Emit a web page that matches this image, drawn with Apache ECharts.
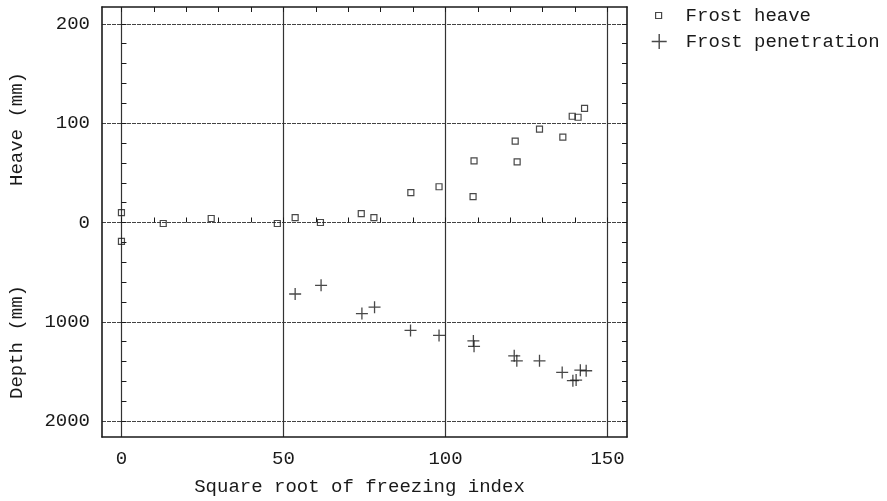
<!DOCTYPE html>
<html>
<head>
<meta charset="utf-8">
<script src="https://cdn.jsdelivr.net/npm/echarts@6/dist/echarts.min.js"></script>
<style>
  html, body { margin: 0; padding: 0; background: #fff; }
  #chart { width: 887px; height: 501px; }
</style>
</head>
<body>
<div id="chart"></div>
<script>
// Square root of freezing index for each heave reading, and the heave (mm)
const heaveX  = [0, 0, 12.9, 27.7, 48.1, 53.6, 61.4, 74.0, 77.9, 89.3, 98.0, 108.8, 108.5, 121.5, 122.1, 129.0, 136.2, 139.1, 140.9, 142.9];
const heaveMm = [10, -19, -1, 4, -1, 5, 0, 9, 5, 30, 36, 62, 26, 82, 61, 94, 86, 107, 106, 115];

// Square root of freezing index for each penetration reading, and the depth (mm)
const penX    = [53.6, 61.6, 74.2, 78.1, 89.2, 98.0, 108.6, 108.8, 121.2, 122.0, 129.0, 136.0, 139.3, 140.3, 141.6, 143.4];
const depthMm = [720, 633, 917, 853, 1087, 1137, 1193, 1247, 1343, 1393, 1393, 1510, 1593, 1587, 1487, 1493];

// Axis ticks
const xTicks      = [0, 50, 100, 150];
const xMinorTicks = [0, 10, 20, 30, 40, 50, 60, 70, 80, 90, 100, 110, 120, 130, 140, 150];
// The vertical axis is in heave units above zero; below zero one unit = 10 mm of depth
const yTicks      = [-200, -100, 0, 100, 200];
const yTickLabels = ['2000', '1000', '0', '100', '200'];
const yMinorTicks = [-200, -180, -160, -140, -120, -100, -80, -60, -40, -20, 0, 20, 40, 60, 80, 100, 120, 140, 160, 180, 200];
const DEPTH_PER_UNIT = 10;

const FONT = '"Liberation Mono", "DejaVu Sans Mono", monospace';
const INK = '#1a1a1a';
const X_MIN = -6, X_MAX = 156, Y_MIN = -216, Y_MAX = 217;

const CROSS = 'path://M0,6 L12,6 M6,0 L6,12';

const heaveData = heaveX.map((x, i) => [x, heaveMm[i]]);
const penData = penX.map((x, i) => [x, -depthMm[i] / DEPTH_PER_UNIT]);

function xAxisDef(extra) {
  return Object.assign({
    type: 'value', min: X_MIN, max: X_MAX, gridIndex: 0,
    axisLine: { show: false },
    axisTick: { show: false },
    axisLabel: { show: false },
    splitLine: { show: false }
  }, extra);
}
function yAxisDef(extra) {
  return Object.assign({
    type: 'value', min: Y_MIN, max: Y_MAX, gridIndex: 0,
    axisLine: { show: false },
    axisTick: { show: false },
    axisLabel: { show: false },
    splitLine: { show: false }
  }, extra);
}

const chart = echarts.init(document.getElementById('chart'), null, { renderer: 'canvas' });

chart.setOption({
  backgroundColor: '#ffffff',
  animation: false,
  grid: { left: 102, right: 260, top: 7, bottom: 61, containLabel: false },
  xAxis: [
    // main bottom axis: labels, gridlines
    xAxisDef({
      position: 'bottom',
      axisLine: { show: true, onZero: false, lineStyle: { color: INK, width: 1.6 } },
      axisTick: { show: false, customValues: xTicks },
      axisLabel: {
        show: true, customValues: xTicks, margin: 12,
        fontFamily: FONT, fontSize: 19, color: INK
      },
      splitLine: { show: true, lineStyle: { color: '#333', width: 1.2 } },
      name: 'Square root of freezing index',
      nameLocation: 'middle', nameGap: 40,
      nameTextStyle: { fontFamily: FONT, fontSize: 19, color: INK, padding: [0, 10, 0, 0] }
    }),
    // bottom inner ticks
    xAxisDef({
      position: 'bottom',
      axisTick: { show: true, inside: true, length: 5, customValues: xMinorTicks, lineStyle: { color: INK, width: 1 } }
    }),
    // top frame edge with inner ticks
    xAxisDef({
      position: 'top',
      axisLine: { show: true, onZero: false, lineStyle: { color: INK, width: 1.6 } },
      axisTick: { show: true, inside: true, length: 5, customValues: xMinorTicks, lineStyle: { color: INK, width: 1 } }
    })
  ],
  yAxis: [
    yAxisDef({
      position: 'left',
      axisLine: { show: true, onZero: false, lineStyle: { color: INK, width: 1.6 } },
      axisTick: { show: false, customValues: yTicks },
      axisLabel: {
        show: true, customValues: yTicks, margin: 12,
        fontFamily: FONT, fontSize: 19, color: INK,
        formatter: v => yTickLabels[yTicks.indexOf(v)]
      },
      splitLine: { show: true, lineStyle: { color: '#444', width: 1, type: [4, 1] } }
    }),
    yAxisDef({
      position: 'left',
      axisTick: { show: true, inside: true, length: 5, customValues: yMinorTicks, lineStyle: { color: INK, width: 1 } }
    }),
    yAxisDef({
      position: 'right',
      axisLine: { show: true, onZero: false, lineStyle: { color: INK, width: 1.6 } },
      axisTick: { show: true, inside: true, length: 5, customValues: yMinorTicks, lineStyle: { color: INK, width: 1 } }
    })
  ],
  legend: [
    {
      data: [{ name: 'Frost heave', icon: 'rect' }],
      left: 650, top: 1, orient: 'vertical',
      itemWidth: 6, itemHeight: 6,
      itemStyle: { color: 'transparent', borderColor: INK, borderWidth: 1.2 },
      textStyle: { fontFamily: FONT, fontSize: 19, color: INK, padding: [0, 0, 0, 19] },
      selectedMode: false
    },
    {
      data: [{ name: 'Frost penetration', icon: CROSS }],
      left: 646, top: 27, orient: 'vertical',
      itemWidth: 15, itemHeight: 15,
      itemStyle: { color: 'transparent', borderColor: INK, borderWidth: 1.4 },
      textStyle: { fontFamily: FONT, fontSize: 19, color: INK, padding: [0, 0, 0, 14] },
      selectedMode: false
    }
  ],
  graphic: [
    {
      type: 'text', x: 17, y: 129, rotation: Math.PI / 2,
      style: { text: 'Heave (mm)', font: '19px ' + FONT, fill: INK, align: 'center', verticalAlign: 'middle' }
    },
    {
      type: 'text', x: 17, y: 342, rotation: Math.PI / 2,
      style: { text: 'Depth (mm)', font: '19px ' + FONT, fill: INK, align: 'center', verticalAlign: 'middle' }
    }
  ],
  series: [
    {
      name: 'Frost heave', type: 'scatter', xAxisIndex: 0, yAxisIndex: 0,
      data: heaveData, symbol: 'rect', symbolSize: 6,
      itemStyle: { color: 'transparent', borderColor: INK, borderWidth: 1.2 },
      z: 5
    },
    {
      name: 'Frost penetration', type: 'scatter', xAxisIndex: 0, yAxisIndex: 0,
      data: penData, symbol: CROSS, symbolSize: 12,
      itemStyle: { color: 'transparent', borderColor: INK, borderWidth: 1.3 },
      z: 5
    }
  ]
});
</script>
</body>
</html>
